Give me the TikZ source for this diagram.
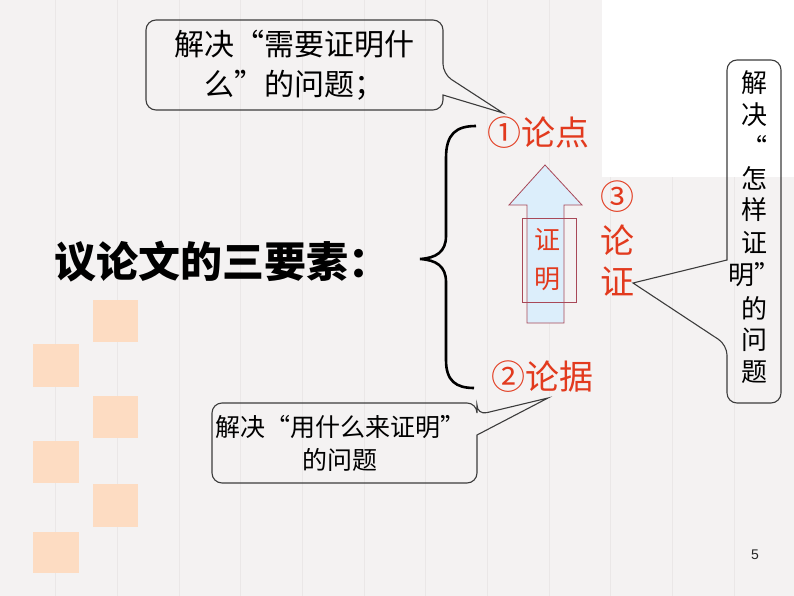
\documentclass[tikz,border=0pt]{standalone}
\usepackage{fontspec}
\newfontfamily\cjk{Noto Sans CJK SC}
\newfontfamily\numfont{Liberation Sans}
\definecolor{bgpaper}{HTML}{F4F2F2}
\definecolor{bgline}{HTML}{EAE7E7}
\definecolor{peach}{HTML}{FDDCC2}
\definecolor{redtxt}{HTML}{E23A1E}
\definecolor{arrowline}{HTML}{A84858}
\definecolor{arrowfill}{HTML}{DCEEFB}
\definecolor{calloutline}{HTML}{3C3C3C}
\tikzset{
  callout/.style={draw=calloutline, line width=1.1pt, rounded corners=10pt},
  sq/.style={fill=peach, draw=none},
  redlabel/.style={text=redtxt, font=\cjk\fontsize{34}{36}\selectfont, inner sep=0pt},
  blacktxt/.style={text=black, inner sep=0pt, align=center},
}
\begin{document}
\begin{tikzpicture}[x=1pt,y=-1pt]
\useasboundingbox (0,0) rectangle (794,596);
% background
\fill[bgpaper] (0,0) rectangle (794,596);
\foreach \lx in {55,117,179,240,302,364,425,487,549,610,672,734}{
  \draw[bgline, line width=1pt] (\lx,0) -- (\lx,596);
}
\fill[white] (602,0) rectangle (794,177);
% peach squares
\fill[sq] (93,300) rectangle (138,342);
\fill[sq] (33,344) rectangle (79,387);
\fill[sq] (93,396) rectangle (138,438);
\fill[sq] (33,441) rectangle (79,483);
\fill[sq] (93,484) rectangle (138,527);
\fill[sq] (33,532) rectangle (79,573);
% title
\node[blacktxt, font=\cjk\bfseries\fontsize{42}{44}\selectfont] (title) at (222,262) {议论文的三要素：};
% brace
\draw[line width=2.6pt, black] (476,126) .. controls (456,126) and (446,134) .. (446,158) -- (446,236)
  .. controls (446,252) and (436,258) .. (420,259)
  .. controls (436,260) and (446,266) .. (446,282) -- (446,360)
  .. controls (446,381) and (456,388) .. (474,388);
% red labels
\node[redlabel] (lundian) at (538,133) {①论点};
\node[redlabel] (lunju) at (542,377) {②论据};
\node[redlabel] (c3) at (617,197) {③};
\node[redlabel] (c3a) at (617,240) {论};
\node[redlabel] (c3b) at (617,282) {证};
% block arrow
\filldraw[fill=arrowfill, draw=arrowline, line width=0.8pt]
  (527,323) -- (527,205) -- (509,205) -- (545,165) -- (582,205) -- (564,205) -- (564,323) -- cycle;
\draw[arrowline, line width=0.8pt] (522,218) rectangle (576,302);
\node[text=redtxt, font=\cjk\fontsize{26}{28}\selectfont, inner sep=0pt] (zm1) at (547,240) {证};
\node[text=redtxt, font=\cjk\fontsize{26}{28}\selectfont, inner sep=0pt] (zm2) at (547,279) {明};
% callout 1
\coordinate (tip1) at (503,113);
\draw[callout] (146,20) -- (443,20) -- (443,74) [rounded corners=0pt] -- (tip1) -- (443,95) [rounded corners=10pt] -- (443,110) -- (146,110) -- cycle;
\node[blacktxt, font=\cjk\fontsize{30}{40}\selectfont] (t1) at (294,65) {解决“需要证明什\\么”的问题；};
% callout 2
\coordinate (tip2) at (548,398);
\draw[callout] (212,403) -- (477,403) -- (477,415) [rounded corners=0pt] -- (tip2) -- (477,435) [rounded corners=10pt] -- (477,483) -- (212,483) -- cycle;
\node[blacktxt, font=\cjk\fontsize{25}{33}\selectfont] (t2) at (340,443) {解决“用什么来证明”\\的问题};
% callout 3
\coordinate (tip3) at (633,283);
\draw[callout] (727,60) -- (781,60) -- (781,403) -- (727,403) -- (727,345) [rounded corners=0pt] -- (tip3) -- (727,260) [rounded corners=10pt] -- cycle;
\foreach \ch/\yy [count=\i] in {解/83,决/115,“/146,怎/178,样/210,证/243,明”/275,的/308,问/340,题/372}{
  \node[blacktxt, font=\cjk\fontsize{26}{28}\selectfont] (v\i) at (754,\yy) {\ch};
}
% page number
\node[text=black!85, font=\numfont\fontsize{14}{16}\selectfont, inner sep=0pt] (pg) at (755,555) {5};
\end{tikzpicture}
\end{document}
